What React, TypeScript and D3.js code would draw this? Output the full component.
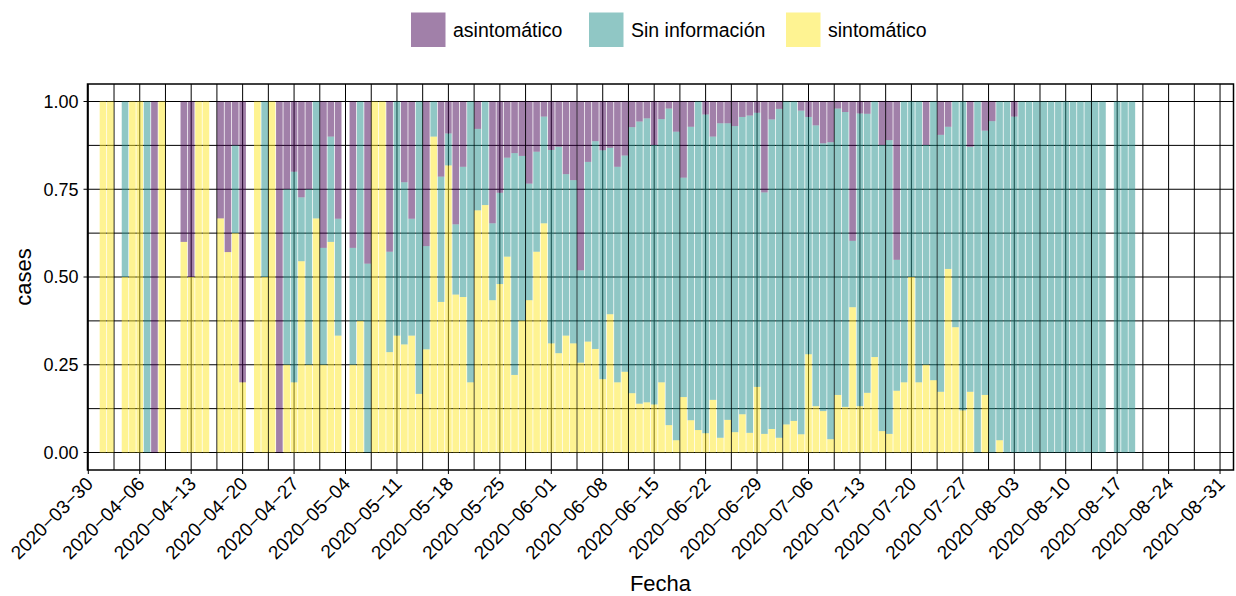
import React, { useEffect, useRef } from 'react';
import * as d3 from 'd3';

// días con casos (los días sin datos no llevan barra)
const fechas = [
  '2020-04-01', '2020-04-02', '2020-04-04', '2020-04-05', '2020-04-06', '2020-04-07', '2020-04-08', '2020-04-09',
  '2020-04-12', '2020-04-13', '2020-04-14', '2020-04-15', '2020-04-17', '2020-04-18', '2020-04-19', '2020-04-20',
  '2020-04-22', '2020-04-23', '2020-04-24', '2020-04-25', '2020-04-26', '2020-04-27', '2020-04-28', '2020-04-29',
  '2020-04-30', '2020-05-01', '2020-05-02', '2020-05-03', '2020-05-05', '2020-05-06', '2020-05-07', '2020-05-08',
  '2020-05-09', '2020-05-10', '2020-05-11', '2020-05-12', '2020-05-13', '2020-05-14', '2020-05-15', '2020-05-16',
  '2020-05-17', '2020-05-18', '2020-05-19', '2020-05-20', '2020-05-21', '2020-05-22', '2020-05-23', '2020-05-24',
  '2020-05-25', '2020-05-26', '2020-05-27', '2020-05-28', '2020-05-29', '2020-05-30', '2020-05-31', '2020-06-01',
  '2020-06-02', '2020-06-03', '2020-06-04', '2020-06-05', '2020-06-06', '2020-06-07', '2020-06-08', '2020-06-09',
  '2020-06-10', '2020-06-11', '2020-06-12', '2020-06-13', '2020-06-14', '2020-06-15', '2020-06-16', '2020-06-17',
  '2020-06-18', '2020-06-19', '2020-06-20', '2020-06-21', '2020-06-22', '2020-06-23', '2020-06-24', '2020-06-25',
  '2020-06-26', '2020-06-27', '2020-06-28', '2020-06-29', '2020-06-30', '2020-07-01', '2020-07-02', '2020-07-03',
  '2020-07-04', '2020-07-05', '2020-07-06', '2020-07-07', '2020-07-08', '2020-07-09', '2020-07-10', '2020-07-11',
  '2020-07-12', '2020-07-13', '2020-07-14', '2020-07-15', '2020-07-16', '2020-07-17', '2020-07-18', '2020-07-19',
  '2020-07-20', '2020-07-21', '2020-07-22', '2020-07-23', '2020-07-24', '2020-07-25', '2020-07-26', '2020-07-27',
  '2020-07-28', '2020-07-29', '2020-07-30', '2020-07-31', '2020-08-01', '2020-08-02', '2020-08-03', '2020-08-04',
  '2020-08-05', '2020-08-06', '2020-08-07', '2020-08-08', '2020-08-09', '2020-08-10', '2020-08-11', '2020-08-12',
  '2020-08-13', '2020-08-14', '2020-08-15', '2020-08-17', '2020-08-18', '2020-08-19',
];

const sintomatico = [
  1, 1, 0.5, 1, 1, 0, 0, 1,
  0.6, 0.5, 1, 1, 0.667, 0.571, 0.625, 0.2,
  1, 0.5, 1, 0, 0.25, 0.2, 0.545, 0.25,
  0.667, 0.25, 0.6, 0.333, 0.25, 0.375, 0, 1,
  1, 0.286, 0.333, 0.308, 0.333, 0.167, 0.294, 0.9,
  0.429, 0.818, 0.45, 0.443, 0.2, 0.69, 0.705, 0.434,
  0.48, 0.558, 0.221, 0.376, 0.434, 0.572, 0.653, 0.311,
  0.283, 0.333, 0.311, 0.256, 0.316, 0.295, 0.209, 0.394,
  0.2, 0.23, 0.169, 0.139, 0.143, 0.137, 0.2, 0.078,
  0.035, 0.158, 0.092, 0.064, 0.055, 0.15, 0.042, 0.093,
  0.058, 0.109, 0.056, 0.187, 0.053, 0.067, 0.042, 0.08,
  0.09, 0.052, 0.28, 0.132, 0.118, 0.038, 0.164, 0.13,
  0.414, 0.132, 0.17, 0.272, 0.061, 0.053, 0.176, 0.2,
  0.5, 0.2, 0.25, 0.206, 0.173, 0.523, 0.357, 0.12,
  0.173, 0, 0.164, 0, 0.035, 0, 0, 0,
  0, 0, 0, 0, 0, 0, 0, 0,
  0, 0, 0, 0, 0, 0,
];

const sinInformacion = [
  0, 0, 0.5, 0, 0, 1, 0, 0,
  0, 0, 0, 0, 0, 0, 0.25, 0,
  0, 0.5, 0, 0, 0.5, 0.6, 0.182, 0.5,
  0.333, 0.333, 0.3, 0.333, 0.333, 0.625, 0.538, 0,
  0, 0.286, 0.667, 0.462, 0.333, 0.833, 0.294, 0.1,
  0.357, 0.091, 0.2, 0.371, 0.8, 0.232, 0.295, 0.219,
  0.26, 0.282, 0.632, 0.469, 0.332, 0.285, 0.304, 0.551,
  0.588, 0.46, 0.465, 0.263, 0.512, 0.592, 0.652, 0.474,
  0.614, 0.616, 0.758, 0.804, 0.809, 0.739, 0.75, 0.902,
  0.879, 0.625, 0.836, 0.936, 0.908, 0.75, 0.896, 0.845,
  0.872, 0.847, 0.904, 0.781, 0.688, 0.882, 0.937, 0.92,
  0.91, 0.922, 0.676, 0.8, 0.763, 0.846, 0.816, 0.84,
  0.189, 0.834, 0.795, 0.728, 0.815, 0.837, 0.373, 0.8,
  0.5, 0.8, 0.626, 0.794, 0.732, 0.405, 0.643, 0.88,
  0.698, 1, 0.753, 0.944, 0.965, 1, 0.957, 1,
  1, 1, 1, 1, 1, 1, 1, 1,
  1, 1, 1, 1, 1, 1,
];

const asintomatico = [
  0, 0, 0, 0, 0, 0, 1, 0,
  0.4, 0.5, 0, 0, 0.333, 0.429, 0.125, 0.8,
  0, 0, 0, 1, 0.25, 0.2, 0.273, 0.25,
  0, 0.417, 0.1, 0.333, 0.417, 0, 0.462, 0,
  0, 0.429, 0, 0.231, 0.333, 0, 0.412, 0,
  0.214, 0.091, 0.35, 0.186, 0, 0.078, 0, 0.347,
  0.26, 0.16, 0.147, 0.155, 0.234, 0.143, 0.043, 0.138,
  0.129, 0.207, 0.224, 0.481, 0.172, 0.113, 0.139, 0.132,
  0.186, 0.154, 0.073, 0.057, 0.048, 0.124, 0.05, 0.02,
  0.086, 0.217, 0.072, 0, 0.037, 0.1, 0.062, 0.062,
  0.07, 0.044, 0.04, 0.032, 0.259, 0.051, 0.021, 0,
  0, 0.026, 0.044, 0.068, 0.119, 0.116, 0.02, 0.03,
  0.397, 0.034, 0.035, 0, 0.124, 0.11, 0.451, 0,
  0, 0, 0.124, 0, 0.095, 0.072, 0, 0,
  0.129, 0, 0.083, 0.056, 0, 0, 0.043, 0,
  0, 0, 0, 0, 0, 0, 0, 0,
  0, 0, 0, 0, 0, 0,
];

const xTickLabels = [
  '2020-03-30', '2020-04-06', '2020-04-13', '2020-04-20', '2020-04-27', '2020-05-04', '2020-05-11',
  '2020-05-18', '2020-05-25', '2020-06-01', '2020-06-08', '2020-06-15', '2020-06-22', '2020-06-29',
  '2020-07-06', '2020-07-13', '2020-07-20', '2020-07-27', '2020-08-03', '2020-08-10', '2020-08-17',
  '2020-08-24', '2020-08-31',
];
const yTicks = [0, 0.25, 0.5, 0.75, 1];

const claves = ['sintomatico', 'sinInformacion', 'asintomatico'];
const leyenda = ['asintomático', 'Sin información', 'sintomático'];
const colores: Record<string, string> = {
  asintomatico: '#440154',
  sinInformacion: '#21908C',
  sintomatico: '#FDE725',
};

const parseDate = d3.utcParse('%Y-%m-%d');
const DAY = 86400000;

export default function App() {
  const svgRef = useRef<SVGSVGElement>(null);

  useEffect(() => {
    const svg = d3.select(svgRef.current);
    svg.selectAll('*').remove();

    const W = 1236;
    const H = 596;
    const panel = { left: 87.5, right: 1233.5, top: 84, bottom: 470 };
    const font = 'Liberation Sans, Arial, Helvetica, sans-serif';

    svg.attr('width', W).attr('height', H).style('font-family', font);

    const t0 = parseDate('2020-03-30')!.getTime();
    const pxPerDay = 7.349;
    const xScale = d3
      .scaleUtc()
      .domain([
        new Date(t0 - ((88.3 - panel.left) / pxPerDay) * DAY),
        new Date(t0 + ((panel.right - 88.3) / pxPerDay) * DAY),
      ])
      .range([panel.left, panel.right]);

    const yScale = d3.scaleLinear().domain([0, 1]).range([452.5, 101.5]);

    const rows = fechas.map((f, i) => ({
      fecha: parseDate(f)!,
      sintomatico: sintomatico[i],
      sinInformacion: sinInformacion[i],
      asintomatico: asintomatico[i],
    }));

    // grilla (debajo de las barras, se ve a través de la transparencia)
    const grid = svg.append('g');
    const tickDates = xTickLabels.map(d => parseDate(d)!);
    const minorX: Date[] = [];
    tickDates.forEach(d => {
      const m = new Date(d.getTime() + 3.5 * DAY);
      if (xScale(m) < panel.right) minorX.push(m);
    });
    const minorY = [0.125, 0.375, 0.625, 0.875];

    grid
      .selectAll('.vgrid')
      .data([...minorX, ...tickDates])
      .enter()
      .append('line')
      .attr('x1', d => xScale(d))
      .attr('x2', d => xScale(d))
      .attr('y1', panel.top)
      .attr('y2', panel.bottom)
      .attr('stroke', '#000')
      .attr('stroke-width', 1);

    grid
      .selectAll('.hgrid')
      .data([...minorY, ...yTicks])
      .enter()
      .append('line')
      .attr('x1', panel.left)
      .attr('x2', panel.right)
      .attr('y1', d => yScale(d))
      .attr('y2', d => yScale(d))
      .attr('stroke', '#000')
      .attr('stroke-width', 1);

    // barras apiladas
    const stack = d3.stack<any>().keys(claves);
    const series = stack(rows);
    const barW = pxPerDay * 0.9;

    svg
      .append('g')
      .selectAll('g')
      .data(series)
      .enter()
      .append('g')
      .attr('fill', d => colores[d.key])
      .attr('fill-opacity', 0.5)
      .selectAll('rect')
      .data(d => d.filter(p => p[1] - p[0] > 0))
      .enter()
      .append('rect')
      .attr('x', d => xScale(d.data.fecha) - barW / 2)
      .attr('width', barW)
      .attr('y', d => yScale(d[1]))
      .attr('height', d => yScale(d[0]) - yScale(d[1]));

    // borde del panel
    svg
      .append('rect')
      .attr('x', panel.left)
      .attr('y', panel.top)
      .attr('width', panel.right - panel.left)
      .attr('height', panel.bottom - panel.top)
      .attr('fill', 'none')
      .attr('stroke', '#000')
      .attr('stroke-width', 1.5);

    // eje x
    const xAxis = svg.append('g');
    xAxis
      .selectAll('line')
      .data(tickDates)
      .enter()
      .append('line')
      .attr('x1', d => xScale(d))
      .attr('x2', d => xScale(d))
      .attr('y1', panel.bottom)
      .attr('y2', panel.bottom + 4)
      .attr('stroke', '#000')
      .attr('stroke-width', 1);

    xAxis
      .selectAll('text')
      .data(xTickLabels)
      .enter()
      .append('text')
      .attr('transform', d => {
        const x = xScale(parseDate(d)!) + 6;
        const y = panel.bottom + 15;
        return `translate(${x},${y}) rotate(-45)`;
      })
      .attr('text-anchor', 'end')
      .style('font-size', '19px')
      .attr('fill', '#000')
      .text(d => d.replace(/-/g, '\u2212'));

    // eje y
    const yAxis = svg.append('g');
    yAxis
      .selectAll('line')
      .data(yTicks)
      .enter()
      .append('line')
      .attr('x1', panel.left - 4)
      .attr('x2', panel.left)
      .attr('y1', d => yScale(d))
      .attr('y2', d => yScale(d))
      .attr('stroke', '#000')
      .attr('stroke-width', 1);

    yAxis
      .selectAll('text')
      .data(yTicks)
      .enter()
      .append('text')
      .attr('x', panel.left - 9)
      .attr('y', d => yScale(d))
      .attr('dy', '0.35em')
      .attr('text-anchor', 'end')
      .style('font-size', '18px')
      .attr('fill', '#000')
      .text(d => d3.format('.2f')(d));

    // títulos de ejes
    svg
      .append('text')
      .attr('transform', `translate(31,${(panel.top + panel.bottom) / 2}) rotate(-90)`)
      .attr('text-anchor', 'middle')
      .style('font-size', '22px')
      .text('cases');

    svg
      .append('text')
      .attr('x', (panel.left + panel.right) / 2)
      .attr('y', 591)
      .attr('text-anchor', 'middle')
      .style('font-size', '22px')
      .text('Fecha');

    // leyenda
    const legendKeys = ['asintomatico', 'sinInformacion', 'sintomatico'];
    const keyX = [411, 589, 786];
    const lg = svg.append('g');
    legendKeys.forEach((k, i) => {
      lg.append('rect')
        .attr('x', keyX[i])
        .attr('y', 12.5)
        .attr('width', 34.5)
        .attr('height', 34.5)
        .attr('fill', colores[k])
        .attr('fill-opacity', 0.5);
      lg.append('text')
        .attr('x', keyX[i] + 42)
        .attr('y', 30)
        .attr('dy', '0.35em')
        .style('font-size', '19.5px')
        .text(leyenda[i]);
    });
  }, []);

  return (
    <svg ref={svgRef} style={{ position: 'absolute', left: 0, top: 0, background: '#fff' }}></svg>
  );
}
